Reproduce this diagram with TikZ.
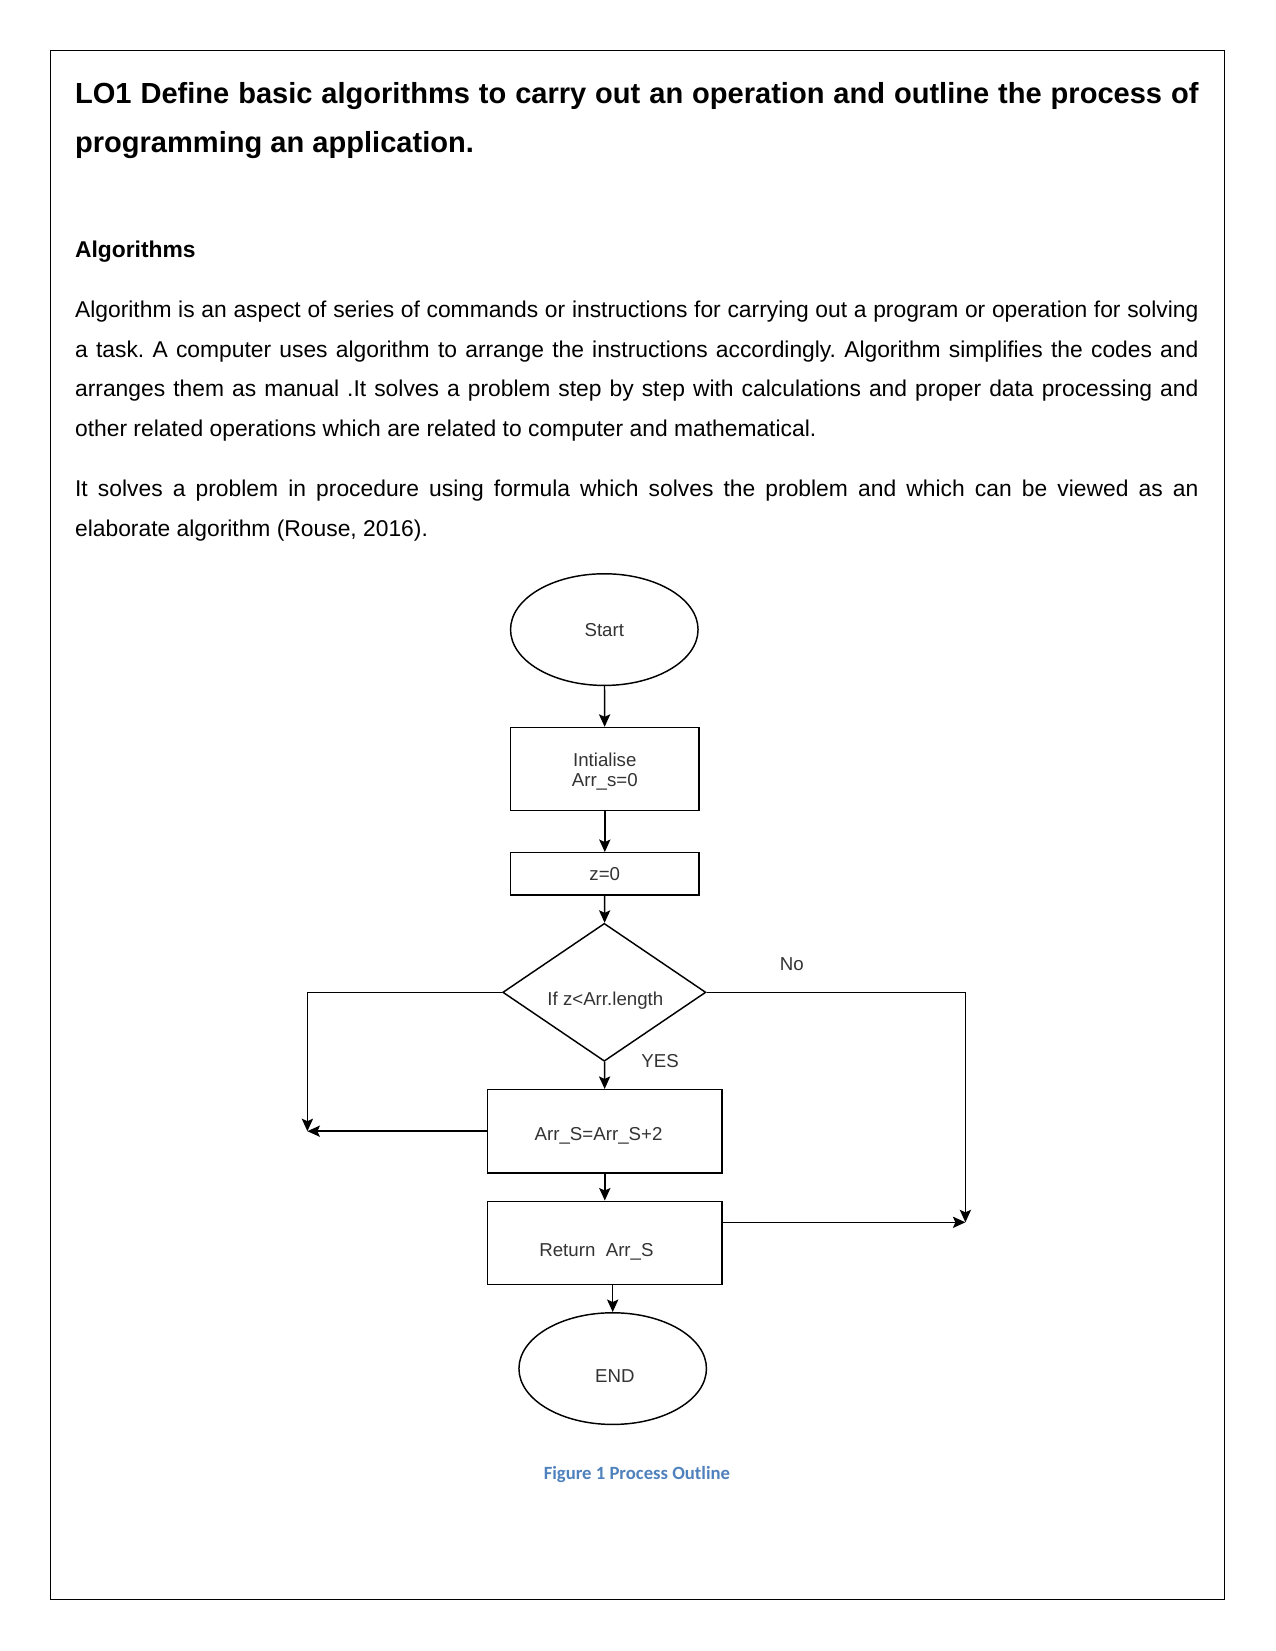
\documentclass[tikz,border=0pt]{standalone}
\usepackage{fontspec}
\setmainfont{Liberation Sans}
\newfontfamily\capfont{Carlito}
\usetikzlibrary{shapes.geometric,arrows.meta}
\definecolor{capblue}{RGB}{79,129,189}
\definecolor{chartgray}{RGB}{51,51,51}
\frenchspacing

% move a label inside its shape without changing the shape
\newcommand{\nudged}[3]{\raisebox{#2}[\height][\depth]{\hspace*{#1}#3\hspace*{-#1}}}

\tikzset{
  chart/.style={draw=black, line width=0.7bp, text=chartgray, inner sep=0pt,
    font=\fontsize{9}{9.6}\selectfont},
  procbox/.style={chart, rectangle, minimum width=90.5bp, minimum height=39.9bp},
  terminal/.style={chart, ellipse, minimum width=90bp, minimum height=53.6bp},
  decision/.style={chart, diamond, minimum width=97.5bp, minimum height=66.2bp},
  flow/.style={draw=black, line width=0.7bp, -{Stealth[length=6bp,width=5.4bp,inset=1.2bp]}},
  bodyline/.style={anchor=base west, inner sep=0pt, font=\fontsize{11}{13}\selectfont},
}

\begin{document}
\begin{tikzpicture}[x=0.48bp, y=-0.48bp]
  \useasboundingbox (0,0) rectangle (1275,1651);
  \draw[line width=0.5bp] (50.5,50.5) rectangle (1224.4,1599.2);

  % heading and text
  \node[bodyline, font=\fontsize{14}{16}\selectfont\bfseries] (head1) at (74.7,103)
    {\makebox[539.2bp][s]{LO1 Define basic algorithms to carry out an operation and outline the process of}};
  \node[bodyline, font=\fontsize{14}{16}\selectfont\bfseries] (head2) at (74.7,152) {programming an application.};
  \node[bodyline, font=\fontsize{11}{13}\selectfont\bfseries] (algs) at (74.7,257.5) {Algorithms};
  \foreach \ln [count=\i from 0] in {
      {Algorithm is an aspect of series of commands or instructions for carrying out a program or operation for solving},
      {a task. A computer uses algorithm to arrange the instructions accordingly. Algorithm simplifies the codes and},
      {arranges them as manual .It solves a problem step by step with calculations and proper data processing and}} {
    \node[bodyline] (para\i) at (74.7,317.5+39.7*\i) {\makebox[539.2bp][s]{\ln}};
  }
  \node[bodyline] (para3) at (74.7,436.6) {other related operations which are related to computer and mathematical.};
  \node[bodyline] (parb0) at (74.7,496.5)
    {\makebox[539.2bp][s]{It solves a problem in procedure using formula which solves the problem and which can be viewed as an}};
  \node[bodyline] (parb1) at (74.7,536.2) {elaborate algorithm (Rouse, 2016).};

  % flowchart
  \node[terminal] (start) at (604.3,629.6) {Start};
  \node[procbox, align=center] (init) at (604.8,769.1) {\nudged{0bp}{-1.3bp}{Intialise}\\\nudged{0bp}{-1.3bp}{Arr\_s=0}};
  \node[procbox, minimum height=20.2bp] (zset) at (604.8,873.8) {z=0};
  \node[decision] (test) at (604.3,992.3) {\nudged{0.5bp}{-4bp}{If z<Arr.length}};
  \node[procbox, minimum width=112.7bp] (addstep) at (604.8,1131.2) {\nudged{-3bp}{-2bp}{Arr\_S=Arr\_S+2}};
  \node[procbox, minimum width=112.7bp] (ret) at (604.8,1242.8) {\nudged{-4bp}{-4.5bp}{Return~ Arr\_S}};
  \node[terminal] (stop) at (612.7,1368.6) {\nudged{1bp}{-3.5bp}{END}};

  \coordinate (lcorner) at (307.4,1131.2);
  \coordinate (rcorner) at (965.4,1222.3);

  \draw[flow] (start) -- (init);
  \draw[flow] (init) -- (zset);
  \draw[flow] (zset) -- (test);
  \draw[flow] (test) -- (addstep);
  \draw[flow] (addstep) -- (ret);
  \draw[flow] (stop.north |- ret.south) -- (stop.north);
  \draw[flow] (test.west) -| (lcorner);
  \draw[flow] (addstep.west) -- (lcorner);
  \draw[flow] (test.east) -| (rcorner);
  \draw[flow] (ret.east |- rcorner) -- (rcorner);

  \node[chart, draw=none] (nolbl) at (791.7,964.4) {No};
  \node[chart, draw=none] (yeslbl) at (660.1,1061.2) {YES};

  \node[inner sep=0pt, font=\capfont\fontsize{9}{11}\selectfont\bfseries, text=capblue]
    (caption) at (636.9,1474.5) {Figure 1 Process Outline};
\end{tikzpicture}
\end{document}
